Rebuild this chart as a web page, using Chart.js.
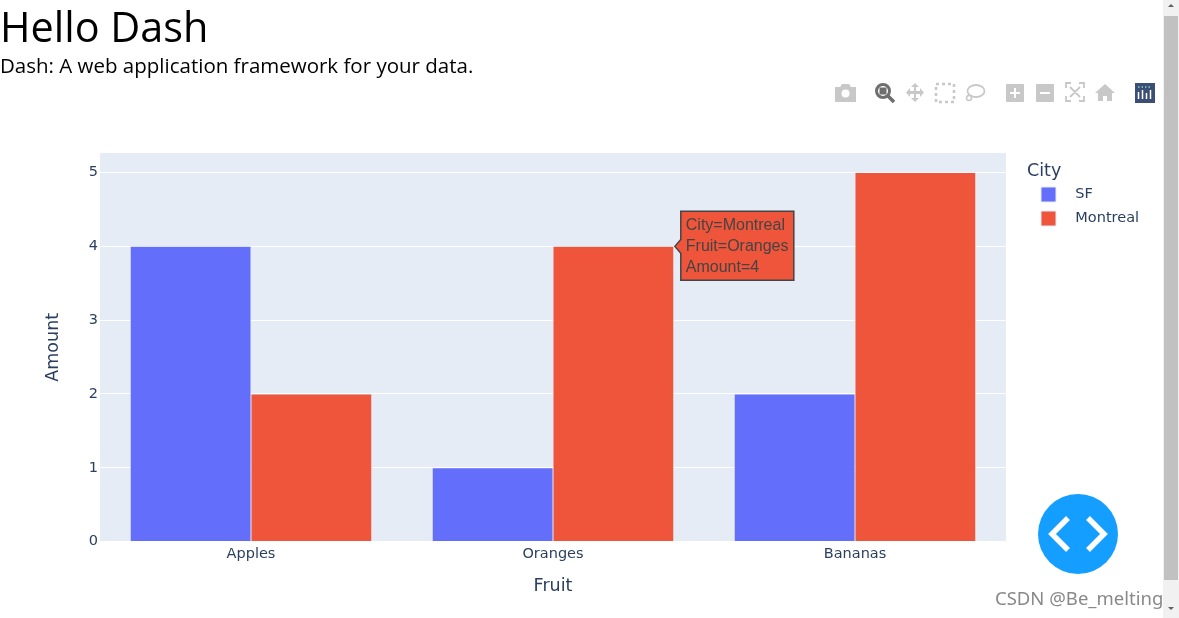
<!DOCTYPE html>
<html><head><meta charset="utf-8">
<script src="https://cdn.jsdelivr.net/npm/chart.js@4"></script>
<style>
html,body{margin:0;padding:0;background:#fff;overflow:hidden;width:1179px;height:618px}
#c{position:absolute;left:0;top:0}
h1{position:absolute;left:0;top:0;margin:0;font:400 41.4px/52px "Open Sans",sans-serif;color:#000}
#sub{position:absolute;left:0;top:51px;font:400 20.5px/28px "Open Sans",sans-serif;color:#000;white-space:nowrap}
#tools{position:absolute;left:830px;top:78px}
#fab{position:absolute;left:1038px;top:494px;width:80px;height:80px;border-radius:50%;background:#149eff}
#track{position:absolute;left:1163px;top:0;width:16px;height:618px;background:#f1f1f1}
#thumb{position:absolute;left:1px;top:16px;width:14px;height:564px;background:#c1c1c1}
#mark{position:absolute;left:995px;top:586px;font:18.5px/24px "Noto Sans",sans-serif;color:rgba(90,90,90,.72);white-space:nowrap}
</style></head><body>
<canvas id="c" width="1179" height="618"></canvas>
<h1>Hello Dash</h1>
<div id="sub">Dash: A web application framework for your data.</div>
<svg id="tools" width="330" height="30" viewBox="0 0 330 30">
 <g fill="#c8c8c8">
  <path d="M5 9h5l2-3h7l2 3h5v15H5z"/><circle cx="15.500" cy="15.500" r="4" fill="#fff"/>
  <g transform="translate(176,6)"><rect width="18" height="18" rx="1"/><path d="M8 4h2v4h4v2h-4v4H8v-4H4V8h4z" fill="#fff"/></g>
  <g transform="translate(206,6)"><rect width="18" height="18" rx="1"/><rect x="4" y="8" width="10" height="2" fill="#fff"/></g>
  <path d="M275 6l-10 9h3v8h5v-5h4v5h5v-8h3z"/>
  <path d="M85 5l4 4h-3v4h4v-3l4 4.500-4 4.500v-3h-4v4h3l-4 4-4-4h3v-4h-4v3l-4-4.500 4-4.500v3h4V9h-3z"/>
 </g>
 <circle cx="53" cy="13" r="6.500" fill="none" stroke="#6e6e6e" stroke-width="3"/>
 <rect x="49.500" y="9.500" width="7" height="7" fill="#6e6e6e"/>
 <path d="M58 18l6 6" stroke="#6e6e6e" stroke-width="3.500"/>
 <rect x="106" y="6" width="18" height="18" fill="none" stroke="#c8c8c8" stroke-width="2.500" stroke-dasharray="3 3"/>
 <ellipse cx="146" cy="13" rx="8.500" ry="6" fill="none" stroke="#c8c8c8" stroke-width="1.800"/>
 <circle cx="139" cy="20" r="2.500" fill="none" stroke="#c8c8c8" stroke-width="1.500"/>
 <path d="M236 10V5h5M249 5h5v5M254 18v5h-5M241 23h-5v-5M240 9l10 10M250 9l-10 10" fill="none" stroke="#c8c8c8" stroke-width="1.800"/>
 <rect x="305" y="5" width="20" height="20" fill="#3b4e74"/>
 <path d="M308.500 14v7M312.500 12v9M316.500 15v6M320.500 12v9" stroke="#fff" stroke-width="1.500"/>
 <path d="M308 9h14" stroke="#7fd0c8" stroke-width="1.500" stroke-dasharray="1.500 2"/>
</svg>
<svg id="fab" viewBox="0 0 80 80"><path d="M30 24L14 40l16 16M50 24l16 16-16 16" fill="none" stroke="#fff" stroke-width="5.500"/></svg>
<div id="track"><div id="thumb"></div>
 <svg width="16" height="618" style="position:absolute;left:0;top:0"><path d="M5 7l3-3 3 3z" fill="#606060"/><path d="M5 607l3 3 3-3z" fill="#606060"/></svg>
</div>
<div id="mark">CSDN @Be_melting</div>
<script>
const categories = ["Apples", "Oranges", "Bananas"];
const sfValues = [4, 1, 2];
const montrealValues = [2, 4, 5];
const yTicks = [0, 1, 2, 3, 4, 5];
const seriesNames = ["SF", "Montreal"];
const legendTitle = "City";
const xTitle = "Fruit";
const yTitle = "Amount";
const blue = "#636efa", red = "#ef553b", ink = "#2a3f5f", plotBg = "#e5ecf6";
const hovered = {dataset: 1, index: 1};

const tickFont = {family: '"DejaVu Sans"', size: 14.5};
const titleFont = {family: '"DejaVu Sans"', size: 17.5};

const plotBackground = {
  id: "plotBackground",
  beforeDraw(c) {
    const a = c.chartArea, x = c.ctx;
    x.save(); x.fillStyle = plotBg; x.fillRect(a.left, a.top, a.right - a.left, a.bottom - a.top); x.restore();
  },
  afterLayout(c) {
    const l = c.legend, a = c.chartArea;
    l.left = a.right + 26; l.width = 200; l.right = l.left + 200;
    l.top = a.top + 25; l.bottom = l.top + 300;
  }
};
const hoverLabel = {
  id: "hoverLabel",
  afterDraw(c) {
    const el = c.getDatasetMeta(hovered.dataset).data[hovered.index];
    const x = c.ctx, tipX = el.x + el.width / 2 + 1, tipY = el.y;
    const left = tipX + 6, top = tipY - 35, w = 113, h = 69;
    x.save();
    x.fillStyle = ink; x.font = '17.5px "DejaVu Sans"'; x.textBaseline = "middle"; x.textAlign = "left";
    x.fillText(legendTitle, c.chartArea.right + 21, c.chartArea.top + 18);
    x.beginPath();
    x.moveTo(tipX, tipY); x.lineTo(left, tipY - 7); x.lineTo(left, top); x.lineTo(left + w, top);
    x.lineTo(left + w, top + h); x.lineTo(left, top + h); x.lineTo(left, tipY + 7); x.closePath();
    x.fillStyle = red; x.fill(); x.strokeStyle = "#444"; x.lineWidth = 1.5; x.stroke();
    x.fillStyle = "#444"; x.font = '16px "Liberation Sans"';
    [legendTitle + "=" + seriesNames[hovered.dataset],
     xTitle + "=" + categories[hovered.index],
     yTitle + "=" + montrealValues[hovered.index]].forEach((t, i) => x.fillText(t, left + 5, top + 14 + i * 21));
    x.restore();
  }
};
new Chart(document.getElementById("c"), {
  type: "bar",
  data: {
    labels: categories,
    datasets: [
      {label: seriesNames[0], data: sfValues, backgroundColor: blue, borderColor: plotBg, borderWidth: 0.5},
      {label: seriesNames[1], data: montrealValues, backgroundColor: red, borderColor: plotBg, borderWidth: 0.5}
    ]
  },
  plugins: [plotBackground, hoverLabel],
  options: {
    responsive: false, animation: false, devicePixelRatio: 1,
    categoryPercentage: 0.8, barPercentage: 1,
    layout: {padding: {left: 0, top: 153, right: 173, bottom: 21}},
    plugins: {
      tooltip: {enabled: false},
      legend: {
        position: "chartArea", align: "start",
        labels: {
          color: ink, font: tickFont, boxWidth: 15, boxHeight: 15, padding: 9,
          generateLabels: () => seriesNames.map((n, i) => ({
            text: "  \u2009" + n, fillStyle: i ? red : blue, strokeStyle: plotBg, lineWidth: 1, fontColor: ink
          }))
        }
      }
    },
    scales: {
      x: {
        grid: {display: false}, border: {display: false},
        ticks: {color: ink, font: tickFont, padding: -4, maxRotation: 0},
        title: {display: true, text: xTitle, color: ink, font: titleFont, padding: {top: 17, bottom: 0}}
      },
      y: {
        min: 0, max: 5.265,
        afterBuildTicks(a) { a.ticks = yTicks.map(value => ({value})); },
        afterFit(a) { a.width = 100; },
        grid: {color: "#fff", lineWidth: 1, drawTicks: false}, border: {display: false},
        ticks: {color: ink, font: tickFont, padding: 2},
        title: {display: true, text: yTitle, color: ink, font: titleFont, padding: {top: 43, bottom: 0}}
      }
    }
  }
});
</script>
</body></html>
